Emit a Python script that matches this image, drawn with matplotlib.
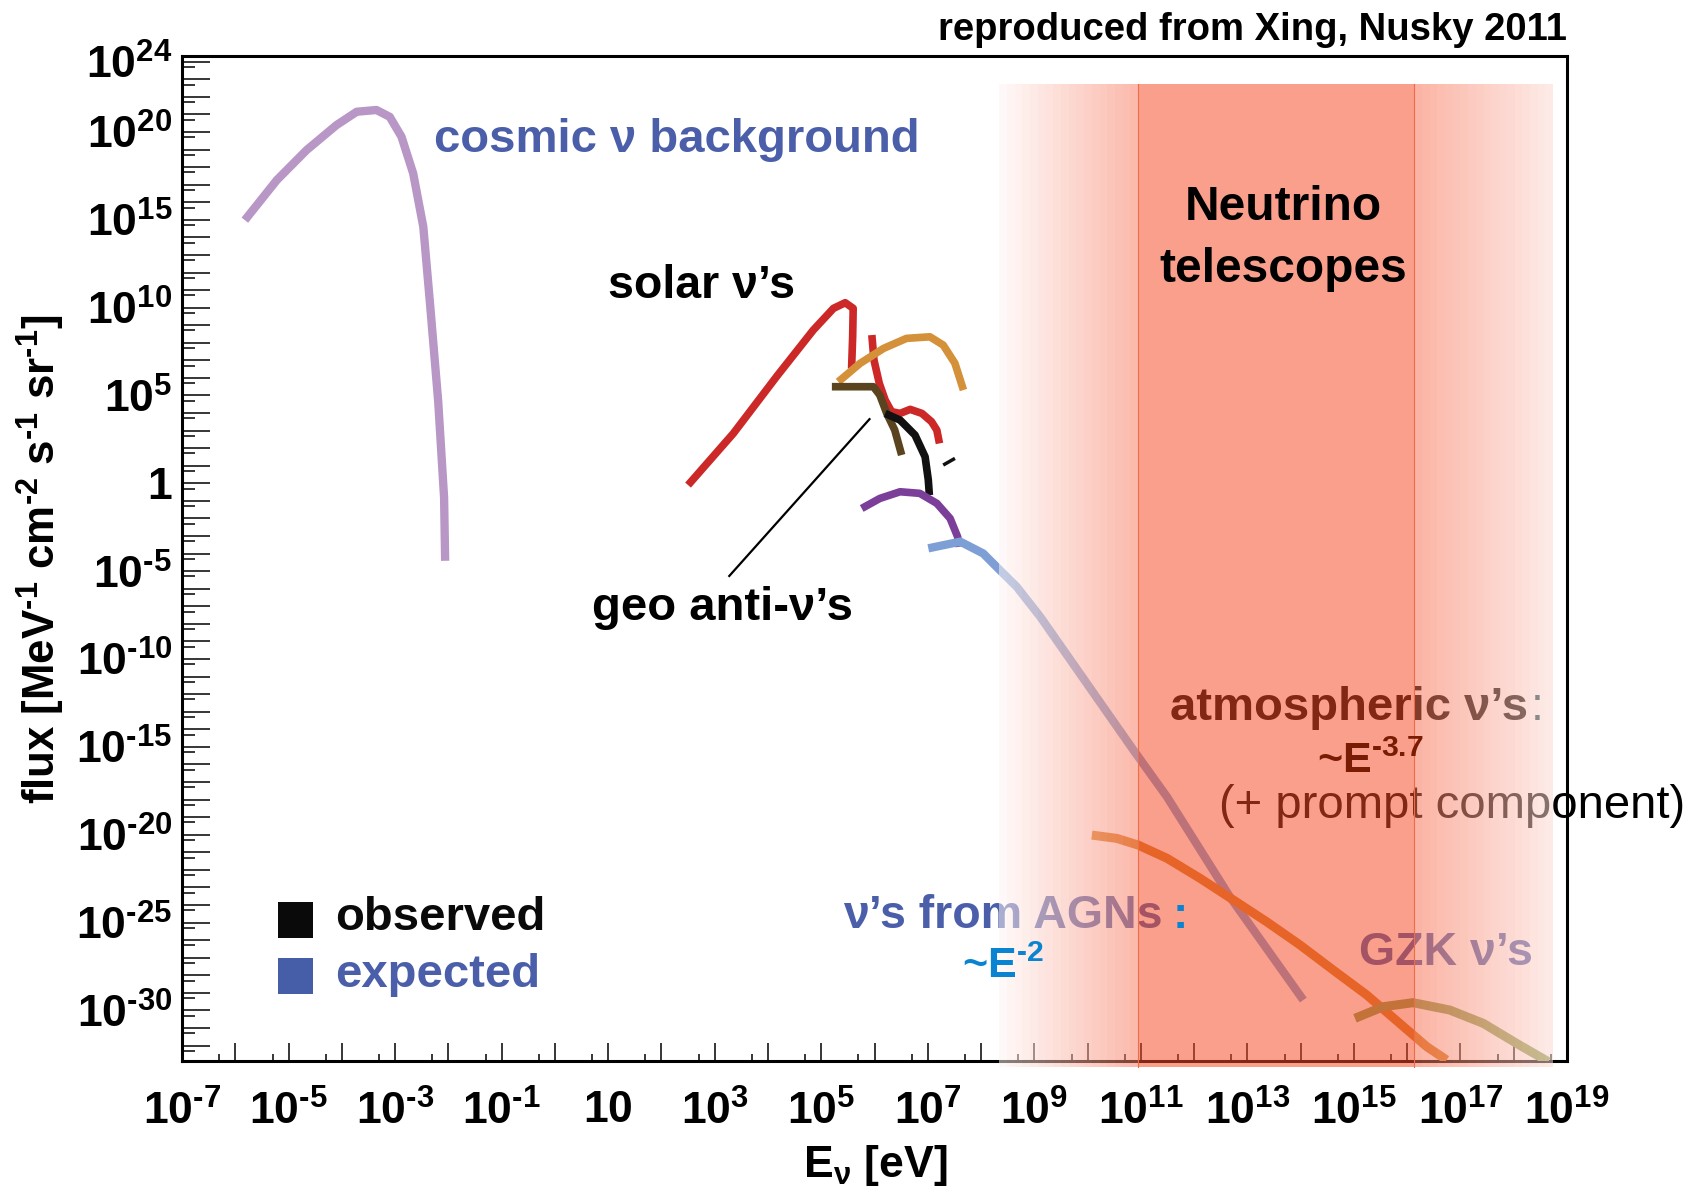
import numpy as np
import matplotlib
matplotlib.use("Agg")
from matplotlib import pyplot as plt
from matplotlib.patches import Rectangle
from matplotlib.ticker import FixedLocator, FuncFormatter, NullFormatter

plt.rcParams["font.family"] = ["Liberation Sans", "DejaVu Sans"]
plt.rcParams["mathtext.fontset"] = "custom"
plt.rcParams["mathtext.rm"] = "Liberation Sans:bold"
plt.rcParams["mathtext.bf"] = "Liberation Sans:bold"
plt.rcParams["mathtext.it"] = "Liberation Sans:italic:bold"
plt.rcParams["mathtext.sf"] = "Liberation Sans:bold"

W, H = 1694, 1188
HY = "\u2010"  # short hyphen for exponents

# ---- spectra, log10(E/eV) and log10(flux) ----
cosmic_logE = [-5.82, -5.22, -4.66, -4.10, -3.72, -3.35, -3.10, -2.88, -2.66, -2.47, -2.34, -2.19, -2.08, -2.06]
cosmic_logF = [14.98, 17.26, 18.97, 20.39, 21.15, 21.25, 20.86, 19.73, 17.64, 14.60, 10.08, 4.64, -0.81, -4.41]

solar_pp_logE = [2.50, 3.35, 4.16, 4.85, 5.23, 5.45, 5.60, 5.59, 5.57]
solar_pp_logF = [-0.10, 2.84, 6.07, 8.72, 9.96, 10.28, 9.96, 8.34, 6.54]

solar_b8_logE = [5.95, 5.99, 6.09, 6.20, 6.32, 6.48, 6.67, 6.89, 7.07, 7.17, 7.22]
solar_b8_logF = [8.44, 7.02, 5.69, 4.74, 4.08, 3.98, 4.21, 3.98, 3.51, 3.03, 2.27]

cno_logE = [5.32, 5.73, 6.17, 6.60, 7.04, 7.29, 7.51, 7.67]
cno_logF = [5.78, 6.83, 7.68, 8.25, 8.34, 7.87, 6.83, 5.31]

geo_logE = [5.20, 5.98, 6.10, 6.23, 6.38, 6.51]
geo_logF = [5.50, 5.50, 5.02, 3.98, 3.03, 1.61]

reactor_logE = [6.20, 6.48, 6.76, 6.95, 7.01, 7.03]
reactor_logF = [3.98, 3.60, 2.75, 1.51, 0.19, -0.67]

dash_logE = [7.29, 7.51]
dash_logF = [1.04, 1.42]

sn_logE = [5.76, 6.10, 6.48, 6.85, 7.17, 7.42, 7.56, 7.59]
sn_logF = [-1.43, -0.86, -0.48, -0.57, -1.14, -2.00, -3.04, -3.61]

agn_logE = [7.01, 7.61, 8.04, 8.32, 8.67, 9.11, 10.86, 11.49, 12.67, 14.05]
agn_logF = [-3.70, -3.32, -3.99, -4.84, -5.89, -7.59, -15.18, -17.84, -23.53, -29.41]

atmo_logE = [10.08, 10.55, 10.95, 11.49, 12.11, 12.74, 13.36, 13.99, 14.61, 15.24, 15.86, 16.37, 16.74]
atmo_logF = [-20.02, -20.21, -20.59, -21.34, -22.48, -23.72, -24.95, -26.28, -27.70, -29.12, -30.74, -32.07, -32.82]

gzk_logE = [15.02, 15.55, 16.11, 16.80, 17.43, 18.05, 18.65]
gzk_logF = [-30.45, -29.79, -29.56, -29.98, -30.74, -31.87, -32.92]

geo_pointer_logE = [3.26, 5.92]
geo_pointer_logF = [-5.32, 3.70]

# neutrino telescope energy window (log10 E), fades at both sides
tel_fade_lo, tel_lo, tel_hi, tel_fade_hi = 8.34, 10.95, 16.13, 18.74
tel_flux_lo, tel_flux_hi = -33.22, 22.73

x_labelled = [-7, -5, -3, -1, 1, 3, 5, 7, 9, 11, 13, 15, 17, 19]
y_labelled = [-30, -25, -20, -15, -10, -5, 0, 5, 10, 15, 20, 24]


def px(x, y):
    return x / W, 1 - y / H


def expo(k):
    return str(k).replace("-", HY)


fig = plt.figure(figsize=(W / 100, H / 100), dpi=100)
ax = fig.add_axes([182 / W, 1 - 1061 / H, (1567 - 182) / W, (1061 - 55.7) / H])
ax.set_xscale("log")
ax.set_yscale("log")
ax.set_xlim(1e-7, 1e19)
ax.set_ylim(10 ** -32.88, 10 ** 24.34)


def curve(le, lf, color, lw=5.5, z=3, **kw):
    ax.plot(10.0 ** np.array(le), 10.0 ** np.array(lf), color=color, lw=lw,
            solid_capstyle="butt", solid_joinstyle="round", zorder=z, **kw)


curve(cosmic_logE, cosmic_logF, "#B896C6", lw=6)
curve(solar_pp_logE, solar_pp_logF, "#CC2828")
curve(solar_b8_logE, solar_b8_logF, "#CC2828")
curve(cno_logE, cno_logF, "#D4913A")
curve(geo_logE, geo_logF, "#5A4420")
curve(reactor_logE, reactor_logF, "#111111")
curve(dash_logE, dash_logF, "#111111", lw=2.5)
curve(sn_logE, sn_logF, "#7B3F9A")
curve(agn_logE, agn_logF, "#7E9FD5", lw=6)
curve(atmo_logE, atmo_logF, "#D9822B", lw=6.5)
curve(gzk_logE, gzk_logF, "#8C9E50", lw=6.5)
curve(geo_pointer_logE, geo_pointer_logF, "black", lw=1.6)

# telescope window drawn as a translucent overlay with stepped fades
base = np.array([245, 75, 38]) / 255.0
white = np.ones(3)
alpha = 0.53
nstep = 18


def band_strip(x0, x1, t):
    col = white * (1 - t) + base * t
    r = Rectangle((10 ** x0, 10 ** tel_flux_lo), 10 ** x1 - 10 ** x0,
                  10 ** tel_flux_hi - 10 ** tel_flux_lo, facecolor=col, alpha=alpha,
                  edgecolor="none", lw=0, zorder=5, clip_on=False, antialiased=False)
    ax.add_patch(r)


edges = np.linspace(tel_fade_lo, tel_lo, nstep + 1)
for i in range(nstep):
    band_strip(edges[i], edges[i + 1], 0.04 + 0.70 * (i + 0.5) / nstep)
band_strip(tel_lo, tel_hi, 1.0)
edges = np.linspace(tel_hi, tel_fade_hi, nstep + 1)
for i in range(nstep):
    band_strip(edges[i], edges[i + 1], 0.80 - 0.60 * (i + 0.5) / nstep)
for xe in (tel_lo, tel_hi):
    ax.plot([10 ** xe, 10 ** xe], [10 ** tel_flux_lo, 10 ** tel_flux_hi],
            color="#F26B48", lw=0.8, zorder=6, clip_on=False)

# axes cosmetics
for s in ax.spines.values():
    s.set_linewidth(2.2)
ax.xaxis.set_major_locator(FixedLocator([10.0 ** k for k in range(-7, 20)]))
ax.xaxis.set_minor_locator(FixedLocator([5 * 10.0 ** k for k in range(-7, 19)]))
ax.yaxis.set_major_locator(FixedLocator([10.0 ** k for k in range(-32, 25)]))
ax.yaxis.set_minor_locator(FixedLocator([5 * 10.0 ** k for k in range(-33, 24)]))


def xfmt(v, pos):
    k = int(round(np.log10(v)))
    if k not in x_labelled:
        return ""
    return "$10$" if k == 1 else "$10^{%s}$" % expo(k)


def yfmt(v, pos):
    k = int(round(np.log10(v)))
    if k not in y_labelled:
        return ""
    return "$1$" if k == 0 else "$10^{%s}$" % expo(k)


ax.xaxis.set_major_formatter(FuncFormatter(xfmt))
ax.yaxis.set_major_formatter(FuncFormatter(yfmt))
ax.xaxis.set_minor_formatter(NullFormatter())
ax.yaxis.set_minor_formatter(NullFormatter())
ax.tick_params(axis="x", which="major", direction="in", length=13, width=1.1,
               labelsize=32, pad=21, top=False)
ax.tick_params(axis="x", which="minor", direction="in", length=5, width=1.1, top=False)
ax.tick_params(axis="y", which="major", direction="in", length=20, width=1.1,
               labelsize=32, pad=7, right=False)
ax.tick_params(axis="y", which="minor", direction="in", length=9, width=1.1, right=False)

fig.text(*px(41, 559), "flux [MeV$^{%s1}$ cm$^{%s2}$ s$^{%s1}$ sr$^{%s1}$]" % (HY, HY, HY, HY),
         rotation=90, ha="center", va="center", fontsize=31.5, fontweight="bold")
fig.text(*px(875, 1165), "E$_{\\mathrm{\\nu}}$ [eV]", ha="center", va="center",
         fontsize=32, fontweight="bold")
fig.text(*px(1567, 30), "reproduced from Xing, Nusky 2011", ha="right", va="center",
         fontsize=27.5, fontweight="bold")


def label(x, y, s, z=4, **kw):
    # figure-pixel placement, drawn inside the axes so the overlay can cover it
    ax.text(*px(x, y), s, transform=fig.transFigure, va="center", zorder=z,
            clip_on=False, **kw)


blue = "#4A5EAA"
label(434, 140, "cosmic ν background", fontsize=34, fontweight="bold", color=blue)
label(608, 286, "solar ν’s", fontsize=33.5, fontweight="bold", color="black")
label(592, 608, "geo anti-ν’s", fontsize=34, fontweight="bold", color="black")
label(843, 916, "ν’s from AGNs", fontsize=33.5, fontweight="bold", color=blue)
label(1170, 708, "atmospheric ν’s", fontsize=34, fontweight="bold", color="black")
label(1219, 806, "(+ prompt component)", fontsize=34, color="black")
label(1359, 953, "GZK ν’s", fontsize=33.5, fontweight="bold", color=blue)

# legend
fig.patches.append(Rectangle(px(278, 938), 35 / W, 36 / H, transform=fig.transFigure,
                             facecolor="#0A0A0A", edgecolor="none"))
fig.patches.append(Rectangle(px(278, 994), 35 / W, 36 / H, transform=fig.transFigure,
                             facecolor="#465DA8", edgecolor="none"))
label(335, 918, "observed", fontsize=34, fontweight="bold", color="#0A0A0A")
label(335, 975, "expected", fontsize=34, fontweight="bold", color=blue)

# labels on top of the overlay
label(1283, 208, "Neutrino", z=10, ha="center", fontsize=34.5, fontweight="bold")
label(1283, 270, "telescopes", z=10, ha="center", fontsize=34.5, fontweight="bold")
label(1180, 916, ":", z=10, ha="center", fontsize=33, fontweight="bold", color="#0A84D0")
label(1003, 967, "~E$^{%s2}$" % HY, z=10, ha="center", fontsize=31, fontweight="bold",
      color="#0A84D0")
label(1537, 708, ":", z=10, ha="center", fontsize=33, color="#8A8A8A")
label(1370, 762, "~E$^{%s3.7}$" % HY, z=10, ha="center", fontsize=31, fontweight="bold",
      color="#7A1C04")

fig.savefig("out.png", dpi=100)
